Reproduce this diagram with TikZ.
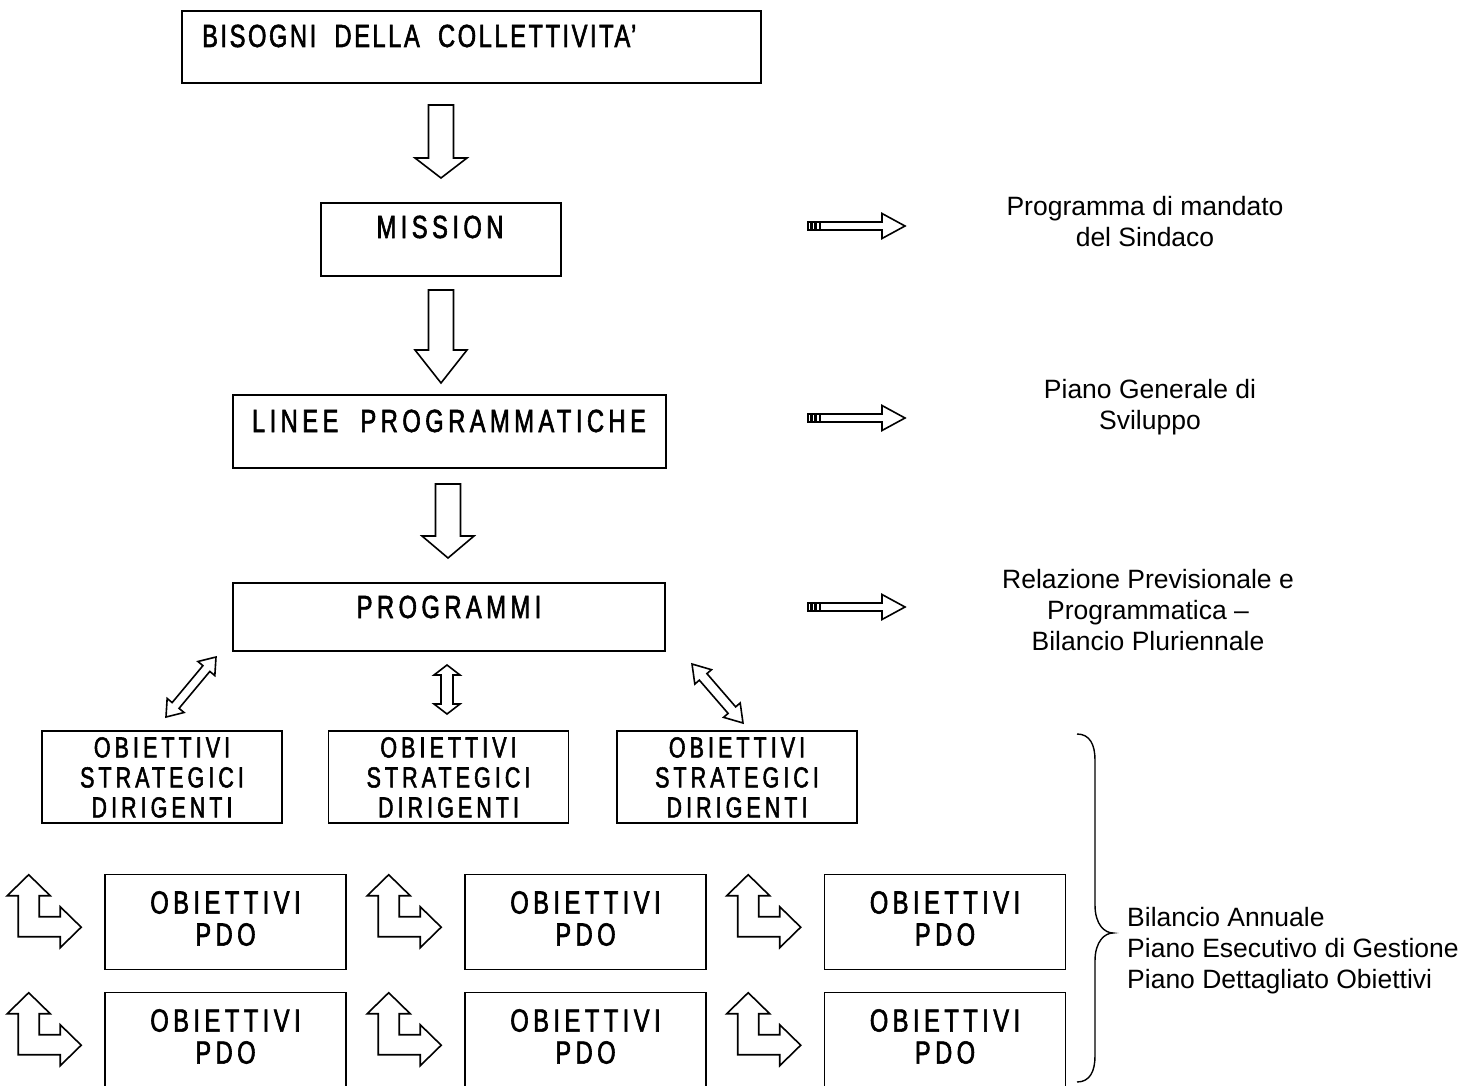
\documentclass[tikz,border=0pt]{standalone}
\usepackage{fontspec}
\setmainfont{Liberation Sans}
\newfontfamily\boxfont[FakeStretch=0.74,LetterSpace=14,FakeBold=1.8]{Liberation Sans}
\newfontfamily\topfont[FakeStretch=0.74,LetterSpace=8,FakeBold=1.8]{Liberation Sans}
\usetikzlibrary{calc}
\tikzset{
  box/.style={draw, line width=1.6pt, inner sep=0pt},
  btxt/.style={font=\boxfont\fontsize{32}{32}\selectfont, inner sep=0pt, align=center},
  side/.style={font=\fontsize{26.5}{31}\selectfont, inner sep=0pt, align=center},
  arr/.style={draw, line width=1.6pt, fill=white, line join=miter},
  bent/.pic={\draw[arr] (21.5,0) -- (43,21) -- (32,21) -- (32,42) -- (53,42) -- (53,32) -- (74,52.5) -- (53,73) -- (53,62) -- (11,62) -- (11,21) -- (0,21) -- cycle;},
  stripe/.pic={\draw[line width=1.3pt] (0,-4) rectangle (2.5,4) (4,-4) rectangle (7,4) (8.5,-4) rectangle (12,4);
    \draw[arr] (12,-4) -- (74,-4) -- (74,-12.5) -- (97,0) -- (74,12.5) -- (74,4) -- (12,4) -- cycle;}
}
\newcommand\downarr[4]{\draw[arr] (#1-12.5,#2) -- (#1+12.5,#2) -- (#1+12.5,#3) -- (#1+26,#3) -- (#1,#4) -- (#1-26,#3) -- (#1-12.5,#3) -- cycle;}
\newcommand\dblarrow[5]{\draw[arr] let \p1=(#1), \p2=(#2), \n1={atan2(\y2-\y1,\x2-\x1)}, \n2={veclen(\x2-\x1,\y2-\y1)} in
  [shift={(\p1)}, rotate=\n1] (0,0) -- (#5,#4) -- (#5,#3) -- (\n2-#5,#3) -- (\n2-#5,#4) -- (\n2,0) -- (\n2-#5,-#4) -- (\n2-#5,-#3) -- (#5,-#3) -- (#5,-#4) -- cycle;}
\begin{document}
\begin{tikzpicture}[x=1pt,y=-1pt]
\useasboundingbox (0,0) rectangle (1477,1086);
% main chain
\node[box, minimum width=579pt, minimum height=72pt] (bis) at (471.5,47) {};
\node[btxt, font=\topfont\fontsize{32}{32}\selectfont, anchor=base west] (bistxt) at (202,47) {BISOGNI\ \ DELLA\ \ COLLETTIVITA’};
\node[box, minimum width=240pt, minimum height=73pt] (mis) at (441,239.5) {};
\node[btxt, anchor=base] (mistxt) at (440,238) {MISSION};
\node[box, minimum width=433pt, minimum height=73pt] (lin) at (449.5,431.5) {};
\node[btxt, anchor=base] (lintxt) at (449,432) {LINEE\ \ PROGRAMMATICHE};
\node[box, minimum width=432pt, minimum height=68pt] (pro) at (449,617) {};
\node[btxt, anchor=base] (protxt) at (449,618) {PROGRAMMI};
\downarr{441}{105}{158}{178}
\downarr{441}{290}{350}{383}
\downarr{448}{484}{536}{558}
% right side
\pic at (808,226) {stripe};
\pic at (808,418) {stripe};
\pic at (808,607) {stripe};
\node[side] (s1) at (1145,222) {Programma di mandato\\del Sindaco};
\node[side] (s2) at (1150,407) {Piano Generale di\\Sviluppo};
\node[side] (s3) at (1148,610) {Relazione Previsionale e\\Programmatica –\\Bilancio Pluriennale};
% strategic boxes
\foreach \n/\x in {a/162,b/448.5,c/737}{
  \node[box, minimum width=240pt, minimum height=92pt] (os\n) at (\x,777) {};
  \node[btxt, anchor=north, font=\boxfont\fontsize{29}{30}\selectfont] (ost\n) at (\x,737) {OBIETTIVI\\STRATEGICI\\DIRIGENTI};
}
\coordinate (d1a) at (166,717); \coordinate (d1b) at (216,657);
\coordinate (d2a) at (447,714); \coordinate (d2b) at (447,665);
\coordinate (d3a) at (743,723); \coordinate (d3b) at (692,664);
\dblarrow{d1a}{d1b}{4.5}{11}{15}
\dblarrow{d2a}{d2b}{6}{13}{10}
\dblarrow{d3a}{d3b}{5}{11}{17}
% PDO boxes
\foreach \r/\y in {1/922,2/1040}{
  \foreach \n/\x in {a/225.5,b/585.5,c/945}{
    \node[box, minimum width=241pt, minimum height=95pt] (p\r\n) at (\x,\y) {};
    \node[btxt, anchor=north] (pt\r\n) at (\x,\y-31) {OBIETTIVI\\PDO};
    \pic at ($(p\r\n.north west)+(-97,1)$) {bent};
  }
}
% brace
\draw[line width=1.4pt] (1077,734) .. controls (1090,734) and (1095,745) .. (1095,760) -- (1095,905) .. controls (1095,925) and (1105,933) .. (1113,933) .. controls (1105,933) and (1095,941) .. (1095,961) -- (1095,1056) .. controls (1095,1071) and (1090,1082) .. (1077,1082);
\node[side, align=left, anchor=west] (bil) at (1127,951) {Bilancio Annuale\\Piano Esecutivo di Gestione\\Piano Dettagliato Obiettivi};
\end{tikzpicture}
\end{document}
